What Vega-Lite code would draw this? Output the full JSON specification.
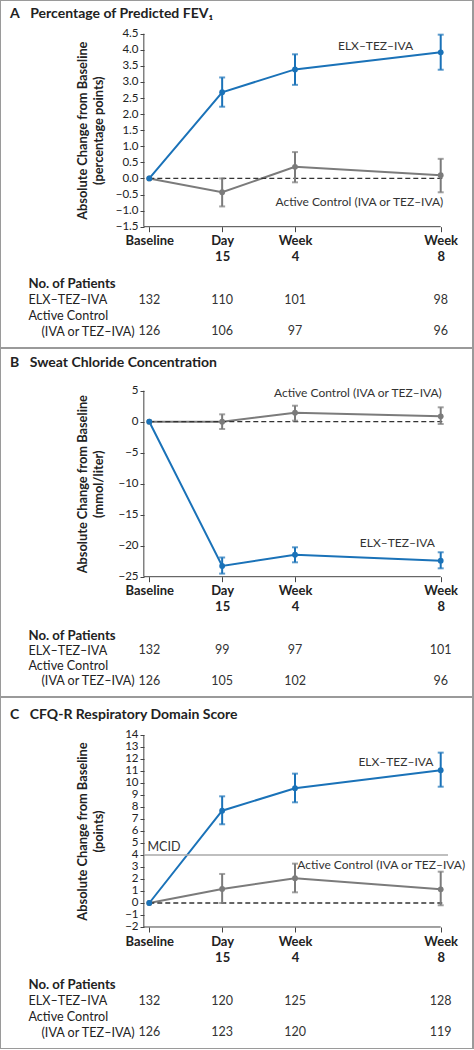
{
"$schema": "https://vega.github.io/schema/vega-lite/v6.json",
"background": "#9a9a9a",
"padding": {"left": 1, "right": 2, "top": 1, "bottom": 1},
"spacing": 2,
"config": {"view": {"stroke": null, "fill": "white"}, "font": "Lato", "text": {"font": "Lato"}},
"datasets": {
"sA": [
{"arm": "Active Control", "week": 0, "value": 0, "lo": null, "hi": null},
{"arm": "Active Control", "week": 2, "value": -0.43, "lo": -0.87, "hi": 0.0},
{"arm": "Active Control", "week": 4, "value": 0.36, "lo": -0.12, "hi": 0.82},
{"arm": "Active Control", "week": 8, "value": 0.10, "lo": -0.43, "hi": 0.61},
{"arm": "ELX–TEZ–IVA", "week": 0, "value": 0, "lo": null, "hi": null},
{"arm": "ELX–TEZ–IVA", "week": 2, "value": 2.68, "lo": 2.23, "hi": 3.14},
{"arm": "ELX–TEZ–IVA", "week": 4, "value": 3.39, "lo": 2.91, "hi": 3.86},
{"arm": "ELX–TEZ–IVA", "week": 8, "value": 3.92, "lo": 3.38, "hi": 4.47}
],
"sB": [
{"arm": "Active Control", "week": 0, "value": 0, "lo": null, "hi": null},
{"arm": "Active Control", "week": 2, "value": 0.0, "lo": -1.18, "hi": 1.19},
{"arm": "Active Control", "week": 4, "value": 1.45, "lo": 0.16, "hi": 2.58},
{"arm": "Active Control", "week": 8, "value": 0.87, "lo": -0.37, "hi": 2.32},
{"arm": "ELX–TEZ–IVA", "week": 0, "value": 0, "lo": null, "hi": null},
{"arm": "ELX–TEZ–IVA", "week": 2, "value": -23.27, "lo": -24.5, "hi": -21.9},
{"arm": "ELX–TEZ–IVA", "week": 4, "value": -21.45, "lo": -22.68, "hi": -20.26},
{"arm": "ELX–TEZ–IVA", "week": 8, "value": -22.42, "lo": -23.65, "hi": -21.06}
],
"sC": [
{"arm": "Active Control", "week": 0, "value": 0, "lo": null, "hi": null},
{"arm": "Active Control", "week": 2, "value": 1.17, "lo": 0.0, "hi": 2.42},
{"arm": "Active Control", "week": 4, "value": 2.06, "lo": 0.89, "hi": 3.28},
{"arm": "Active Control", "week": 8, "value": 1.14, "lo": -0.19, "hi": 2.61},
{"arm": "ELX–TEZ–IVA", "week": 0, "value": 0, "lo": null, "hi": null},
{"arm": "ELX–TEZ–IVA", "week": 2, "value": 7.69, "lo": 6.56, "hi": 8.89},
{"arm": "ELX–TEZ–IVA", "week": 4, "value": 9.56, "lo": 8.39, "hi": 10.78},
{"arm": "ELX–TEZ–IVA", "week": 8, "value": 11.06, "lo": 9.69, "hi": 12.53}
],
"aA": [
{"label": "ELX–TEZ–IVA", "week": 7.24, "value": 4.12},
{"label": "Active Control (IVA or TEZ–IVA)", "week": 8.07, "value": -0.74}
],
"aB": [
{"label": "Active Control (IVA or TEZ–IVA)", "week": 8.03, "value": 4.68},
{"label": "ELX–TEZ–IVA", "week": 7.84, "value": -19.6}
],
"aC": [
{"label": "ELX–TEZ–IVA", "week": 7.8, "value": 11.72},
{"label": "Active Control (IVA or TEZ–IVA)", "week": 8.67, "value": 3.14}
],
"nA": [
{"row": "ELX–TEZ–IVA", "week": 0, "n": 132},
{"row": "ELX–TEZ–IVA", "week": 2, "n": 110},
{"row": "ELX–TEZ–IVA", "week": 4, "n": 101},
{"row": "ELX–TEZ–IVA", "week": 8, "n": 98},
{"row": "(IVA or TEZ–IVA)", "week": 0, "n": 126},
{"row": "(IVA or TEZ–IVA)", "week": 2, "n": 106},
{"row": "(IVA or TEZ–IVA)", "week": 4, "n": 97},
{"row": "(IVA or TEZ–IVA)", "week": 8, "n": 96}
],
"nB": [
{"row": "ELX–TEZ–IVA", "week": 0, "n": 132},
{"row": "ELX–TEZ–IVA", "week": 2, "n": 99},
{"row": "ELX–TEZ–IVA", "week": 4, "n": 97},
{"row": "ELX–TEZ–IVA", "week": 8, "n": 101},
{"row": "(IVA or TEZ–IVA)", "week": 0, "n": 126},
{"row": "(IVA or TEZ–IVA)", "week": 2, "n": 105},
{"row": "(IVA or TEZ–IVA)", "week": 4, "n": 102},
{"row": "(IVA or TEZ–IVA)", "week": 8, "n": 96}
],
"nC": [
{"row": "ELX–TEZ–IVA", "week": 0, "n": 132},
{"row": "ELX–TEZ–IVA", "week": 2, "n": 120},
{"row": "ELX–TEZ–IVA", "week": 4, "n": 125},
{"row": "ELX–TEZ–IVA", "week": 8, "n": 128},
{"row": "(IVA or TEZ–IVA)", "week": 0, "n": 126},
{"row": "(IVA or TEZ–IVA)", "week": 2, "n": 123},
{"row": "(IVA or TEZ–IVA)", "week": 4, "n": 120},
{"row": "(IVA or TEZ–IVA)", "week": 8, "n": 119}
]
},
"vconcat": [
{
"spacing": 0, "bounds": "flush",
"vconcat": [
{
"width": 471, "height": 267,
"title": {"text": "A\u2003Percentage of Predicted FEV₁", "anchor": "start", "frame": "group", "offset": -20, "dx": 9, "fontSize": 14, "fontWeight": "bold", "color": "#222"},
"data": {"name": "sA"},
"resolve": {"axis": {"x": "independent", "y": "independent"}},
"layer": [
{"mark": {"type": "line", "strokeWidth": 2},
 "encoding": {
  "x": {"field": "week", "type": "quantitative", "scale": {"domain": [-4.071, 8.859], "nice": false, "zero": false},
        "axis": {"values": [0, 2, 4, 8], "offset": -41.3, "domain": false, "grid": false, "tickSize": 5, "tickColor": "#444", "labelFontSize": 13, "labelFontWeight": "bold", "labelColor": "#222", "labelPadding": 3, "labelLineHeight": 16, "labelOverlap": false, "labelBound": false, "labelFlush": false, "title": null,
                 "labelExpr": "datum.value == 0 ? 'Baseline' : datum.value == 2 ? ['Day', '15'] : datum.value == 4 ? ['Week', '4'] : ['Week', '8']"}},
  "y": {"field": "value", "type": "quantitative", "scale": {"domain": [-2.784, 5.517], "nice": false, "zero": false},
        "axis": {"values": [-1.5, -1, -0.5, 0, 0.5, 1, 1.5, 2, 2.5, 3, 3.5, 4, 4.5], "format": ".1f", "offset": -143, "domain": false, "grid": false, "tickSize": 4, "tickColor": "#444", "labelFontSize": 11.5, "labelColor": "#222", "labelPadding": 2, "labelOverlap": false, "labelBound": false, "labelFlush": false,
                 "title": ["Absolute Change from Baseline", "(percentage points)"], "titleFontSize": 12.8, "titleFontWeight": "bold", "titleColor": "#222", "titleLineHeight": 16.5, "titleX": -55, "titleY": 129.2}},
  "color": {"field": "arm", "type": "nominal", "scale": {"domain": ["Active Control", "ELX–TEZ–IVA"], "range": ["#7b7b7b", "#1a72b8"]}, "legend": null}
 }},
{"data": {"values": [{}]}, "mark": {"type": "rule", "color": "#444", "strokeWidth": 1}, "encoding": {"x": {"datum": -0.15, "type": "quantitative", "axis": null}, "y": {"datum": -1.5, "type": "quantitative", "axis": null}, "y2": {"datum": 4.5}}},
{"data": {"values": [{}]}, "mark": {"type": "rule", "color": "#444", "strokeWidth": 1}, "encoding": {"x": {"datum": -0.15, "type": "quantitative", "axis": null}, "x2": {"datum": 8}, "y": {"datum": -1.5, "type": "quantitative", "axis": null}}},
{"data": {"values": [{}]}, "mark": {"type": "rule", "color": "#333", "strokeWidth": 1.3, "strokeDash": [5, 3]}, "encoding": {"x": {"datum": 0, "type": "quantitative", "axis": null}, "x2": {"datum": 8.1}, "y": {"datum": 0, "type": "quantitative", "axis": null}}},
{"transform": [{"filter": "datum.lo != null"}], "mark": {"type": "errorbar", "thickness": 2, "ticks": {"size": 6}},
 "encoding": {"x": {"field": "week", "type": "quantitative", "axis": null}, "y": {"field": "lo", "type": "quantitative", "axis": null}, "y2": {"field": "hi"}, "color": {"field": "arm", "type": "nominal", "legend": null}}},
{"mark": {"type": "circle", "size": 34, "opacity": 1},
 "encoding": {"x": {"field": "week", "type": "quantitative", "axis": null}, "y": {"field": "value", "type": "quantitative", "axis": null}, "color": {"field": "arm", "type": "nominal", "legend": null}}},
{"data": {"name": "aA"}, "mark": {"type": "text", "align": "right", "baseline": "middle", "fontSize": 12, "color": "#333"},
 "encoding": {"x": {"field": "week", "type": "quantitative", "axis": null}, "y": {"field": "value", "type": "quantitative", "axis": null}, "text": {"field": "label"}}}
]
},
{
"width": 471, "height": 79,
"data": {"name": "nA"},
"mark": {"type": "text", "fontSize": 12.5, "color": "#333"},
"encoding": {
 "x": {"field": "week", "type": "quantitative", "scale": {"domain": [-4.071, 8.859], "nice": false, "zero": false}, "axis": null},
 "y": {"field": "row", "type": "ordinal", "scale": {"type": "point", "domain": ["No. of Patients", "ELX–TEZ–IVA", "Active Control", "(IVA or TEZ–IVA)"], "padding": 1.133},
       "axis": {"orient": "left", "offset": -27, "domain": false, "ticks": false, "tickSize": 0, "labelAlign": "left", "labelBaseline": "middle", "labelColor": "#222", "labelOverlap": false, "labelBound": false, "labelLimit": 0, "title": null,
                "labelPadding": {"condition": {"test": "datum.value === '(IVA or TEZ–IVA)'", "value": -13}, "value": 0},
                "labelFontSize": {"condition": {"test": "datum.value === 'No. of Patients'", "value": 13.2}, "value": 12.6},
                "labelFontWeight": {"condition": {"test": "datum.value === 'No. of Patients'", "value": "bold"}, "value": "normal"}}},
 "text": {"field": "n"}
}
}
]
},
{
"spacing": 0, "bounds": "flush",
"vconcat": [
{
"width": 471, "height": 271,
"title": {"text": "B\u2003Sweat Chloride Concentration", "anchor": "start", "frame": "group", "offset": -21, "dx": 9, "fontSize": 14, "fontWeight": "bold", "color": "#222"},
"data": {"name": "sB"},
"resolve": {"axis": {"x": "independent", "y": "independent"}},
"layer": [
{"mark": {"type": "line", "strokeWidth": 2},
 "encoding": {
  "x": {"field": "week", "type": "quantitative", "scale": {"domain": [-4.071, 8.859], "nice": false, "zero": false},
        "axis": {"values": [0, 2, 4, 8], "offset": -43.3, "domain": false, "grid": false, "tickSize": 5, "tickColor": "#444", "labelFontSize": 13, "labelFontWeight": "bold", "labelColor": "#222", "labelPadding": 3, "labelLineHeight": 16, "labelOverlap": false, "labelBound": false, "labelFlush": false, "title": null,
                 "labelExpr": "datum.value == 0 ? 'Baseline' : datum.value == 2 ? ['Day', '15'] : datum.value == 4 ? ['Week', '4'] : ['Week', '8']"}},
  "y": {"field": "value", "type": "quantitative", "scale": {"domain": [-31.984, 11.726], "nice": false, "zero": false},
        "axis": {"values": [-25, -20, -15, -10, -5, 0, 5], "format": "d", "offset": -143, "domain": false, "grid": false, "tickSize": 4, "tickColor": "#444", "labelFontSize": 11.5, "labelColor": "#222", "labelPadding": 2, "labelOverlap": false, "labelBound": false, "labelFlush": false,
                 "title": ["Absolute Change from Baseline", "(mmol/liter)"], "titleFontSize": 12.8, "titleFontWeight": "bold", "titleColor": "#222", "titleLineHeight": 16.5, "titleX": -55, "titleY": 134.7}},
  "color": {"field": "arm", "type": "nominal", "scale": {"domain": ["Active Control", "ELX–TEZ–IVA"], "range": ["#7b7b7b", "#1a72b8"]}, "legend": null}
 }},
{"data": {"values": [{}]}, "mark": {"type": "rule", "color": "#444", "strokeWidth": 1}, "encoding": {"x": {"datum": -0.15, "type": "quantitative", "axis": null}, "y": {"datum": -25, "type": "quantitative", "axis": null}, "y2": {"datum": 5}}},
{"data": {"values": [{}]}, "mark": {"type": "rule", "color": "#444", "strokeWidth": 1}, "encoding": {"x": {"datum": -0.15, "type": "quantitative", "axis": null}, "x2": {"datum": 8}, "y": {"datum": -25, "type": "quantitative", "axis": null}}},
{"data": {"values": [{}]}, "mark": {"type": "rule", "color": "#333", "strokeWidth": 1.3, "strokeDash": [5, 3]}, "encoding": {"x": {"datum": 0, "type": "quantitative", "axis": null}, "x2": {"datum": 8.1}, "y": {"datum": 0, "type": "quantitative", "axis": null}}},
{"transform": [{"filter": "datum.lo != null"}], "mark": {"type": "errorbar", "thickness": 2, "ticks": {"size": 6}},
 "encoding": {"x": {"field": "week", "type": "quantitative", "axis": null}, "y": {"field": "lo", "type": "quantitative", "axis": null}, "y2": {"field": "hi"}, "color": {"field": "arm", "type": "nominal", "legend": null}}},
{"mark": {"type": "circle", "size": 34, "opacity": 1},
 "encoding": {"x": {"field": "week", "type": "quantitative", "axis": null}, "y": {"field": "value", "type": "quantitative", "axis": null}, "color": {"field": "arm", "type": "nominal", "legend": null}}},
{"data": {"name": "aB"}, "mark": {"type": "text", "align": "right", "baseline": "middle", "fontSize": 12, "color": "#333"},
 "encoding": {"x": {"field": "week", "type": "quantitative", "axis": null}, "y": {"field": "value", "type": "quantitative", "axis": null}, "text": {"field": "label"}}}
]
},
{
"width": 471, "height": 76,
"data": {"name": "nB"},
"mark": {"type": "text", "fontSize": 12.5, "color": "#333"},
"encoding": {
 "x": {"field": "week", "type": "quantitative", "scale": {"domain": [-4.071, 8.859], "nice": false, "zero": false}, "axis": null},
 "y": {"field": "row", "type": "ordinal", "scale": {"type": "point", "domain": ["No. of Patients", "ELX–TEZ–IVA", "Active Control", "(IVA or TEZ–IVA)"], "padding": 1.09},
       "axis": {"orient": "left", "offset": -27, "domain": false, "ticks": false, "tickSize": 0, "labelAlign": "left", "labelBaseline": "middle", "labelColor": "#222", "labelOverlap": false, "labelBound": false, "labelLimit": 0, "title": null,
                "labelPadding": {"condition": {"test": "datum.value === '(IVA or TEZ–IVA)'", "value": -13}, "value": 0},
                "labelFontSize": {"condition": {"test": "datum.value === 'No. of Patients'", "value": 13.2}, "value": 12.6},
                "labelFontWeight": {"condition": {"test": "datum.value === 'No. of Patients'", "value": "bold"}, "value": "normal"}}},
 "text": {"field": "n"}
}
}
]
},
{
"spacing": 0, "bounds": "flush",
"vconcat": [
{
"width": 471, "height": 271,
"title": {"text": "C\u2003CFQ-R Respiratory Domain Score", "anchor": "start", "frame": "group", "offset": -24, "dx": 9, "fontSize": 14, "fontWeight": "bold", "color": "#222"},
"data": {"name": "sC"},
"resolve": {"axis": {"x": "independent", "y": "independent"}},
"layer": [
{"mark": {"type": "line", "strokeWidth": 2},
 "encoding": {
  "x": {"field": "week", "type": "quantitative", "scale": {"domain": [-4.071, 8.859], "nice": false, "zero": false},
        "axis": {"values": [0, 2, 4, 8], "offset": -42, "domain": false, "grid": false, "tickSize": 5, "tickColor": "#444", "labelFontSize": 13, "labelFontWeight": "bold", "labelColor": "#222", "labelPadding": 3, "labelLineHeight": 16, "labelOverlap": false, "labelBound": false, "labelFlush": false, "title": null,
                 "labelExpr": "datum.value == 0 ? 'Baseline' : datum.value == 2 ? ['Day', '15'] : datum.value == 4 ? ['Week', '4'] : ['Week', '8']"}},
  "y": {"field": "value", "type": "quantitative", "scale": {"domain": [-5.5, 17.083], "nice": false, "zero": false},
        "axis": {"values": [-2, -1, 0, 1, 2, 3, 4, 5, 6, 7, 8, 9, 10, 11, 12, 13, 14], "format": "d", "offset": -143, "domain": false, "grid": false, "tickSize": 4, "tickColor": "#444", "labelFontSize": 11.5, "labelColor": "#222", "labelPadding": 2, "labelOverlap": false, "labelBound": false, "labelFlush": false,
                 "title": ["Absolute Change from Baseline", "(points)"], "titleFontSize": 12.8, "titleFontWeight": "bold", "titleColor": "#222", "titleLineHeight": 16.5, "titleX": -55, "titleY": 133}},
  "color": {"field": "arm", "type": "nominal", "scale": {"domain": ["Active Control", "ELX–TEZ–IVA"], "range": ["#7b7b7b", "#1a72b8"]}, "legend": null}
 }},
{"data": {"values": [{}]}, "mark": {"type": "rule", "color": "#444", "strokeWidth": 1}, "encoding": {"x": {"datum": -0.15, "type": "quantitative", "axis": null}, "y": {"datum": -2, "type": "quantitative", "axis": null}, "y2": {"datum": 14}}},
{"data": {"values": [{}]}, "mark": {"type": "rule", "color": "#444", "strokeWidth": 1}, "encoding": {"x": {"datum": -0.15, "type": "quantitative", "axis": null}, "x2": {"datum": 8}, "y": {"datum": -2, "type": "quantitative", "axis": null}}},
{"data": {"values": [{}]}, "mark": {"type": "rule", "color": "#333", "strokeWidth": 1.3, "strokeDash": [5, 3]}, "encoding": {"x": {"datum": 0, "type": "quantitative", "axis": null}, "x2": {"datum": 8.1}, "y": {"datum": 0, "type": "quantitative", "axis": null}}},
{"data": {"values": [{"label": "MCID", "value": 4}]}, "mark": {"type": "rule", "color": "#aaaaaa", "strokeWidth": 1.5}, "encoding": {"x": {"datum": -0.15, "type": "quantitative", "axis": null}, "x2": {"datum": 8.2}, "y": {"field": "value", "type": "quantitative", "axis": null}}},
{"data": {"values": [{"label": "MCID", "value": 4}]}, "mark": {"type": "text", "align": "left", "baseline": "bottom", "dy": -1, "fontSize": 12.5, "color": "#333"}, "encoding": {"x": {"datum": -0.05, "type": "quantitative", "axis": null}, "y": {"field": "value", "type": "quantitative", "axis": null}, "text": {"field": "label"}}},
{"transform": [{"filter": "datum.lo != null"}], "mark": {"type": "errorbar", "thickness": 2, "ticks": {"size": 6}},
 "encoding": {"x": {"field": "week", "type": "quantitative", "axis": null}, "y": {"field": "lo", "type": "quantitative", "axis": null}, "y2": {"field": "hi"}, "color": {"field": "arm", "type": "nominal", "legend": null}}},
{"mark": {"type": "circle", "size": 34, "opacity": 1},
 "encoding": {"x": {"field": "week", "type": "quantitative", "axis": null}, "y": {"field": "value", "type": "quantitative", "axis": null}, "color": {"field": "arm", "type": "nominal", "legend": null}}},
{"data": {"name": "aC"}, "mark": {"type": "text", "align": "right", "baseline": "middle", "fontSize": 12, "color": "#333"},
 "encoding": {"x": {"field": "week", "type": "quantitative", "axis": null}, "y": {"field": "value", "type": "quantitative", "axis": null}, "text": {"field": "label"}}}
]
},
{
"width": 471, "height": 79,
"data": {"name": "nC"},
"mark": {"type": "text", "fontSize": 12.5, "color": "#333"},
"encoding": {
 "x": {"field": "week", "type": "quantitative", "scale": {"domain": [-4.071, 8.859], "nice": false, "zero": false}, "axis": null},
 "y": {"field": "row", "type": "ordinal", "scale": {"type": "point", "domain": ["No. of Patients", "ELX–TEZ–IVA", "Active Control", "(IVA or TEZ–IVA)"], "padding": 1.15},
       "axis": {"orient": "left", "offset": -27, "domain": false, "ticks": false, "tickSize": 0, "labelAlign": "left", "labelBaseline": "middle", "labelColor": "#222", "labelOverlap": false, "labelBound": false, "labelLimit": 0, "title": null,
                "labelPadding": {"condition": {"test": "datum.value === '(IVA or TEZ–IVA)'", "value": -13}, "value": 0},
                "labelFontSize": {"condition": {"test": "datum.value === 'No. of Patients'", "value": 13.2}, "value": 12.6},
                "labelFontWeight": {"condition": {"test": "datum.value === 'No. of Patients'", "value": "bold"}, "value": "normal"}}},
 "text": {"field": "n"}
}
}
]
}
]
}
